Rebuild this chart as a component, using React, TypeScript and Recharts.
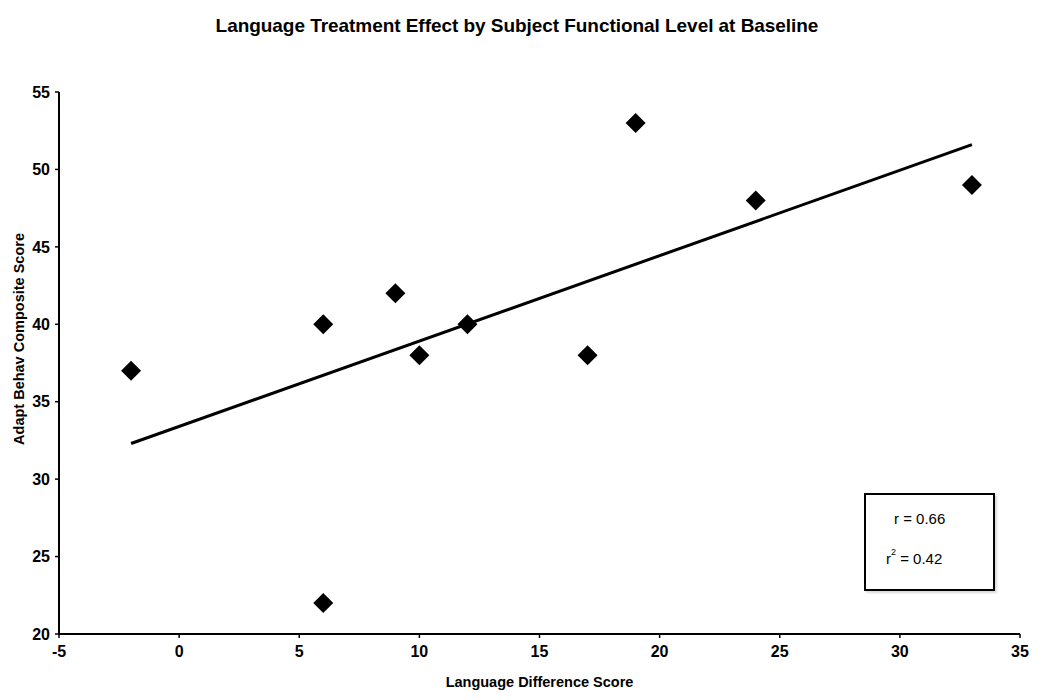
import React from 'react';
import { ScatterChart, Scatter, XAxis, YAxis, Label } from 'recharts';

// language difference score vs adaptive behaviour composite, one point per subject
const langDiff = [-2, 6, 6, 9, 10, 12, 17, 19, 24, 33];
const adaptScore = [37, 40, 22, 42, 38, 40, 38, 53, 48, 49];

// fitted line end points as drawn
const fitX = [-2, 33];
const fitY = [32.3, 51.6];

const xTicks = [-5, 0, 5, 10, 15, 20, 25, 30, 35];
const yTicks = [20, 25, 30, 35, 40, 45, 50, 55];

const points = langDiff.map((x, i) => ({ x, y: adaptScore[i] }));
const fitLine = fitX.map((x, i) => ({ x, y: fitY[i] }));

const FONT = '"Liberation Sans", Arial, Helvetica, sans-serif';

const Diamond = (props: any) => {
    const { cx, cy } = props;
    const r = 10;
    return (
        <polygon
            points={`${cx},${cy - r} ${cx + r},${cy} ${cx},${cy + r} ${cx - r},${cy}`}
            fill="#000"
        />
    );
};

const NoDot = () => null;

const YTitle = (props: any) => {
    const vb = props.viewBox || {};
    const cx = 19;
    const cy = vb.y + vb.height / 2 - 24;
    return (
        <text
            x={cx}
            y={cy}
            transform={`rotate(-90, ${cx}, ${cy})`}
            textAnchor="middle"
            dominantBaseline="central"
            style={{ fill: '#000', fontSize: 14.5, fontWeight: 'bold', fontFamily: FONT }}
        >
            Adapt Behav Composite Score
        </text>
    );
};

export default function App() {
    const tick = { fill: '#000', fontSize: 16, fontWeight: 'bold', fontFamily: FONT };
    return (
        <div style={{ position: 'absolute', left: 0, top: 0, width: 1050, height: 700, background: '#fff', fontFamily: FONT }}>
            <div
                style={{
                    position: 'absolute',
                    top: 15,
                    left: -8,
                    width: 1050,
                    textAlign: 'center',
                    fontSize: 19,
                    fontWeight: 'bold',
                    color: '#000',
                    letterSpacing: -0.05,
                }}
            >
                Language Treatment Effect by Subject Functional Level at Baseline
            </div>
            <ScatterChart width={1050} height={700} margin={{ top: 92, right: 30, left: 0, bottom: 0 }}>
                <XAxis
                    type="number"
                    dataKey="x"
                    domain={[-5, 35]}
                    ticks={xTicks}
                    interval={0}
                    height={66}
                    tick={tick}
                    tickSize={4}
                    tickMargin={8}
                    axisLine={{ stroke: '#000', strokeWidth: 2 }}
                    tickLine={{ stroke: '#000', strokeWidth: 1.5 }}
                >
                    <Label
                        value="Language Difference Score"
                        position="insideBottom"
                        offset={13}
                        style={{ fill: '#000', fontSize: 14.5, fontWeight: 'bold', fontFamily: FONT }}
                    />
                </XAxis>
                <YAxis
                    type="number"
                    dataKey="y"
                    domain={[20, 55]}
                    ticks={yTicks}
                    interval={0}
                    width={59}
                    tick={tick}
                    tickSize={4}
                    tickMargin={5}
                    axisLine={{ stroke: '#000', strokeWidth: 2 }}
                    tickLine={{ stroke: '#000', strokeWidth: 1.5 }}
                >
                    <Label content={YTitle} />
                </YAxis>
                <Scatter
                    data={fitLine}
                    line={{ stroke: '#000', strokeWidth: 3 }}
                    shape={NoDot}
                    isAnimationActive={false}
                />
                <Scatter data={points} shape={Diamond} isAnimationActive={false} />
            </ScatterChart>
            <div
                style={{
                    position: 'absolute',
                    left: 864,
                    top: 493,
                    width: 127,
                    height: 94,
                    border: '2px solid #000',
                    boxShadow: '2px 2px 2px rgba(0,0,0,0.15)',
                    background: '#fff',
                    fontSize: 15,
                    color: '#000',
                }}
            >
                <div style={{ position: 'absolute', left: 28, top: 15 }}>r = 0.66</div>
                <div style={{ position: 'absolute', left: 20, top: 55 }}>
                    r<sup style={{ fontSize: 9, verticalAlign: 'top', position: 'relative', top: -3 }}>2</sup> = 0.42
                </div>
            </div>
        </div>
    );
}
